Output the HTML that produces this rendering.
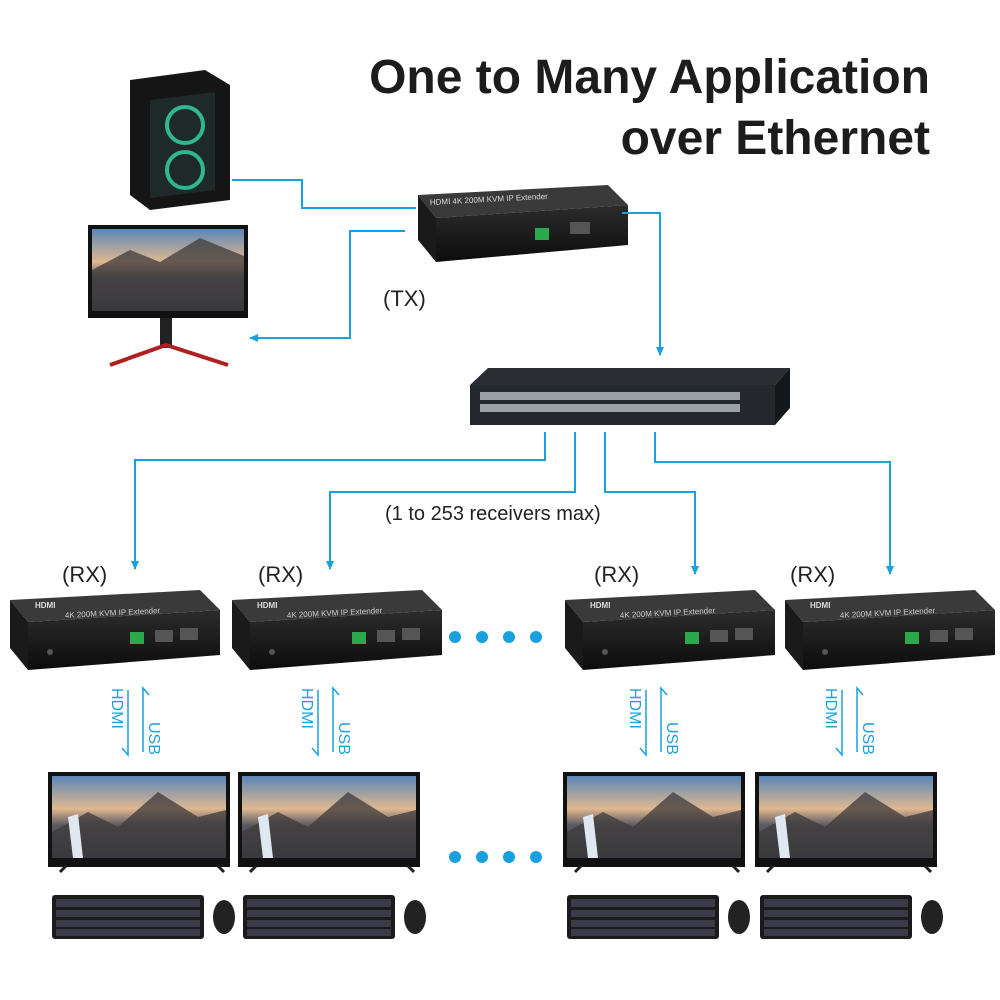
<!DOCTYPE html>
<html><head><meta charset="utf-8"><style>
html,body{margin:0;padding:0;background:#fff;}
svg{display:block;}
text{font-family:"Liberation Sans",sans-serif;}
</style></head><body>
<svg width="1000" height="1000" viewBox="0 0 1000 1000" xmlns="http://www.w3.org/2000/svg">
<defs>
<marker id="ar" markerWidth="10" markerHeight="10" refX="8" refY="5" orient="auto" markerUnits="userSpaceOnUse">
<path d="M0,1 L9,5 L0,9 Z" fill="#1aa0dc"/></marker>
<linearGradient id="sky" x1="0" y1="0" x2="0" y2="1">
<stop offset="0" stop-color="#5b86b8"/><stop offset="0.4" stop-color="#e0b890"/><stop offset="0.6" stop-color="#5a5a62"/><stop offset="1" stop-color="#2e3c4a"/></linearGradient>
<linearGradient id="box" x1="0" y1="0" x2="0" y2="1"><stop offset="0" stop-color="#2c2c2c"/><stop offset="1" stop-color="#0c0c0c"/></linearGradient>
<g id="scr">
<rect x="0" y="0" width="182" height="95" fill="#111"/>
<rect x="4" y="4" width="174" height="82" fill="url(#sky)"/>
<path d="M4,60 L40,40 L70,55 L110,20 L150,45 L178,38 L178,86 L4,86Z" fill="#3d3a3a" opacity="0.75"/>
<path d="M20,45 L25,86 L35,86 L30,42Z" fill="#dfe8ee"/>
<path d="M12,100 L18,94 M170,94 L176,100" stroke="#222" stroke-width="3"/>
</g>
<g id="kb">
<rect x="0" y="0" width="152" height="44" rx="3" fill="#1b1b1b"/>
<g fill="#3a3a48"><rect x="4" y="4" width="144" height="8"/><rect x="4" y="15" width="144" height="7"/><rect x="4" y="25" width="144" height="7"/><rect x="4" y="34" width="144" height="7"/></g>
<ellipse cx="172" cy="22" rx="11" ry="17" fill="#222"/>
</g>
<g id="rx">
<polygon points="0,10 190,0 210,20 18,32" fill="#3a3a3a"/>
<polygon points="0,10 18,32 18,80 0,58" fill="#1a1a1a"/>
<polygon points="18,32 210,20 210,65 18,80" fill="url(#box)"/>
<text x="25" y="18" font-size="8" fill="#ddd" font-weight="bold">HDMI</text>
<text x="55" y="28" font-size="8" fill="#ccc" transform="rotate(-3 55 28)">4K 200M KVM IP Extender</text>
<rect x="120" y="42" width="14" height="12" fill="#2aa84a"/>
<rect x="145" y="40" width="18" height="12" fill="#555"/><rect x="170" y="38" width="18" height="12" fill="#555"/>
<circle cx="40" cy="62" r="3" fill="#555"/>
</g>
</defs>

<text x="930" y="93" font-size="48" font-weight="bold" fill="#1c1c1c" text-anchor="end">One to Many Application</text>
<text x="930" y="154" font-size="48" font-weight="bold" fill="#1c1c1c" text-anchor="end">over Ethernet</text>

<polygon points="130,80 205,70 230,85 230,200 150,210 130,195" fill="#151515"/>
<polygon points="150,100 215,92 215,190 150,198" fill="#1e2a2a"/>
<circle cx="185" cy="125" r="18" fill="none" stroke="#2fb890" stroke-width="4"/>
<circle cx="185" cy="170" r="18" fill="none" stroke="#2fb890" stroke-width="4"/>
<rect x="88" y="225" width="160" height="93" fill="#111"/>
<rect x="92" y="229" width="152" height="82" fill="url(#sky)"/>
<path d="M92,270 L130,250 L160,262 L200,238 L244,256 L244,311 L92,311Z" fill="#3d3a3a" opacity="0.75"/>
<rect x="160" y="318" width="12" height="30" fill="#222"/>
<path d="M110,365 L166,345 L228,365" stroke="#b02020" stroke-width="4" fill="none"/>

<polygon points="418,195 608,185 628,205 436,218" fill="#3a3a3a"/>
<polygon points="418,195 436,218 436,262 418,240" fill="#1a1a1a"/>
<polygon points="436,218 628,205 628,245 436,262" fill="url(#box)"/>
<text x="430" y="205" font-size="8" fill="#ddd" transform="rotate(-3 430 205)">HDMI  4K 200M KVM IP Extender</text>
<rect x="535" y="228" width="14" height="12" fill="#2aa84a"/>
<rect x="570" y="222" width="20" height="12" fill="#555"/>

<polygon points="488,368 790,368 775,385 470,385" fill="#2a2e33"/>
<rect x="470" y="385" width="305" height="40" fill="#24282c"/>
<polygon points="775,385 790,368 790,408 775,425" fill="#15181b"/>
<g fill="#9aa0a6">
<rect x="480" y="392" width="260" height="8"/><rect x="480" y="404" width="260" height="8"/>
</g>

<g stroke="#1aa0dc" stroke-width="2" fill="none">
<path d="M232,180 H302 V208 H416"/>
<path d="M405,231 H350 V338 H250" marker-end="url(#ar)"/>
<path d="M622,213 H660 V355" marker-end="url(#ar)"/>
<path d="M545,432 V460 H135 V569" marker-end="url(#ar)"/>
<path d="M575,432 V492 H330 V569" marker-end="url(#ar)"/>
<path d="M605,432 V492 H695 V574" marker-end="url(#ar)"/>
<path d="M655,432 V462 H890 V574" marker-end="url(#ar)"/>
</g>

<text x="383" y="306" font-size="22" fill="#222">(TX)</text>
<text x="385" y="520" font-size="20" fill="#222">(1 to 253 receivers max)</text>
<g font-size="22" fill="#222">
<text x="62" y="582">(RX)</text><text x="258" y="582">(RX)</text>
<text x="594" y="582">(RX)</text><text x="790" y="582">(RX)</text>
</g>

<use href="#rx" x="10" y="590"/>
<use href="#rx" x="232" y="590"/>
<use href="#rx" x="565" y="590"/>
<use href="#rx" x="785" y="590"/>

<g fill="#1aa0dc">
<circle cx="455" cy="637" r="6"/><circle cx="482" cy="637" r="6"/><circle cx="509" cy="637" r="6"/><circle cx="536" cy="637" r="6"/>
<circle cx="455" cy="857" r="6"/><circle cx="482" cy="857" r="6"/><circle cx="509" cy="857" r="6"/><circle cx="536" cy="857" r="6"/>
</g>

<g font-size="16" fill="#1aa0dc" stroke="none">
<text transform="translate(112,688) rotate(90)">HDMI</text>
<text transform="translate(149,722) rotate(90)">USB</text>
<text transform="translate(302,688) rotate(90)">HDMI</text>
<text transform="translate(339,722) rotate(90)">USB</text>
<text transform="translate(630,688) rotate(90)">HDMI</text>
<text transform="translate(667,722) rotate(90)">USB</text>
<text transform="translate(826,688) rotate(90)">HDMI</text>
<text transform="translate(863,722) rotate(90)">USB</text>
</g>
<g stroke="#1aa0dc" stroke-width="1.5" fill="none">
<path d="M128,690 V755 L122,748"/><path d="M143,752 V688 L149,695"/>
<path d="M318,690 V755 L312,748"/><path d="M333,752 V688 L339,695"/>
<path d="M646,690 V755 L640,748"/><path d="M661,752 V688 L667,695"/>
<path d="M842,690 V755 L836,748"/><path d="M857,752 V688 L863,695"/>
</g>

<use href="#scr" x="48" y="772"/>
<use href="#scr" x="238" y="772"/>
<use href="#scr" x="563" y="772"/>
<use href="#scr" x="755" y="772"/>

<use href="#kb" x="52" y="895"/>
<use href="#kb" x="243" y="895"/>
<use href="#kb" x="567" y="895"/>
<use href="#kb" x="760" y="895"/>
</svg>
</body></html>
